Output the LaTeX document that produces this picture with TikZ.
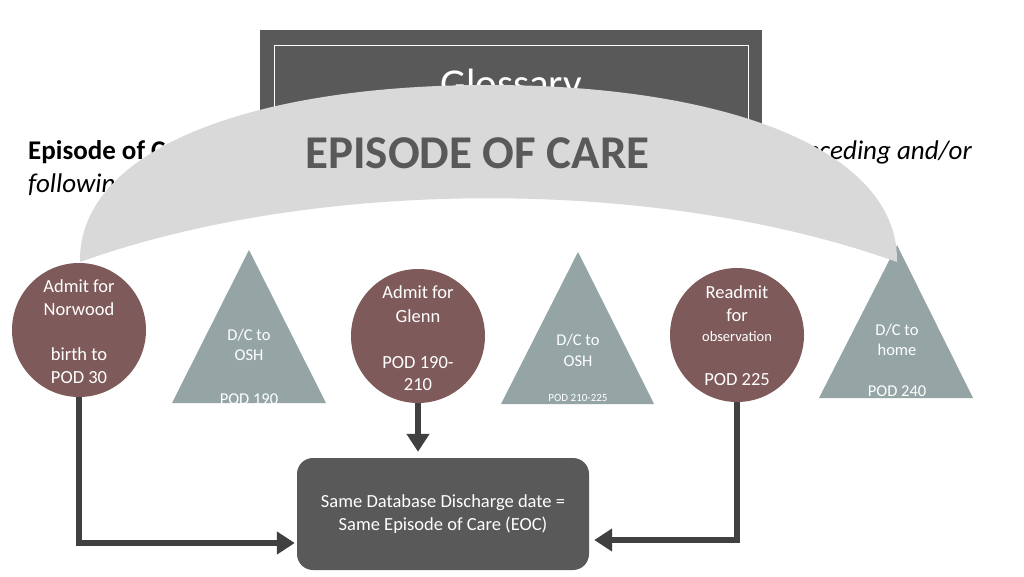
\documentclass[tikz,border=0pt]{standalone}
\usepackage{fontspec}
\setmainfont{Carlito}
\usetikzlibrary{arrows.meta}
\definecolor{dgray}{HTML}{595959}
\definecolor{bandgray}{HTML}{D9D9D9}
\definecolor{circfill}{HTML}{7F5A5A}
\definecolor{trifill}{HTML}{95A5A6}
\definecolor{arrowc}{HTML}{404040}
\begin{document}
\begin{tikzpicture}[x=1pt,y=-1pt,
  circ/.style={circle, fill=circfill, minimum size=134pt, inner sep=0pt},
  trishape/.style={fill=trifill},
  wtext/.style={text=white, anchor=base, inner sep=0pt, font=\fontsize{18.5}{22}\selectfont},
  ttext/.style={text=white, anchor=base, inner sep=0pt, font=\fontsize{16.5}{20}\selectfont},
  arr/.style={draw=arrowc, line width=6pt, -{Triangle[length=18pt,width=22pt]}}
]
\useasboundingbox (0,0) rectangle (1024,576);
\fill[white] (0,0) rectangle (1024,576);

% Glossary box
\node[fill=dgray, minimum width=502pt, minimum height=110pt, anchor=north west, inner sep=0pt] (gloss) at (260,30) {};
\draw[white, line width=0.8pt] (274,45) rectangle (748,122);
\node[anchor=base, text=white, inner sep=0pt, font=\fontsize{41}{44}\selectfont] (glosst) at (511,97) {Glossary};

% paragraph text
\node[anchor=base west, inner sep=0pt, font=\bfseries\fontsize{27}{30}\selectfont] (eoctext) at (28,159) {Episode of Care};
\node[anchor=base west, inner sep=0pt, font=\itshape\fontsize{27}{30}\selectfont] (foltext) at (28,192) {following};
\node[anchor=base east, inner sep=0pt, font=\itshape\fontsize{27}{30}\selectfont] (pretext) at (972,159) {preceding and/or};

% triangles
\fill[trishape] (249,250) -- (326,403) -- (172,403) -- cycle;
\fill[trishape] (578,252) -- (654,404) -- (501,404) -- cycle;
\fill[trishape] (897,245) -- (973,398) -- (819,398) -- cycle;

\node[ttext] (t1a) at (249,340) {D/C to};
\node[ttext] (t1b) at (249,360) {OSH};
\node[ttext] (t1c) at (249,404) {POD 190};
\node[ttext] (t2a) at (578,345) {D/C to};
\node[ttext] (t2b) at (578,366) {OSH};
\node[ttext, font=\fontsize{11}{13}\selectfont] (t2c) at (578,401) {POD 210-225};
\node[ttext] (t3a) at (897,335) {D/C to};
\node[ttext] (t3b) at (897,355) {home};
\node[ttext] (t3c) at (897,396) {POD 240};

% circles
\node[circ] (c1) at (79,330) {};
\node[circ] (c2) at (418,336) {};
\node[circ] (c3) at (737,335) {};

\node[wtext] (c1a) at (79,292) {Admit for};
\node[wtext] (c1b) at (79,315) {Norwood};
\node[wtext] (c1c) at (79,360) {birth to};
\node[wtext] (c1d) at (79,383) {POD 30};
\node[wtext] (c2a) at (418,298) {Admit for};
\node[wtext] (c2b) at (418,322) {Glenn};
\node[wtext] (c2c) at (418,368) {POD 190-};
\node[wtext] (c2d) at (418,390) {210};
\node[wtext] (c3a) at (737,298) {Readmit};
\node[wtext] (c3b) at (737,321) {for};
\node[wtext, font=\fontsize{14.5}{17}\selectfont] (c3c) at (737,341) {observation};
\node[wtext] (c3d) at (737,385) {POD 225};

% band
\fill[bandgray] (80,262) .. controls (78,150) and (250,85) .. (488.5,85)
  .. controls (727,85) and (899,150) .. (897,262)
  .. controls (660,177) and (317,177) .. (80,262) -- cycle;
\node[anchor=base, inner sep=0pt, text=dgray, font=\bfseries\fontsize{47}{50}\selectfont] (title) at (477.5,168) {EPISODE OF CARE};

% bottom box
\node[fill=dgray, rounded corners=16pt, minimum width=292pt, minimum height=112pt, inner sep=0pt,
  text=white, align=center, font=\fontsize{18.5}{23}\selectfont] (sdb) at (443,514)
  {Same Database Discharge date =\\Same Episode of Care (EOC)};

% arrows
\draw[arr, shorten >=2pt] (c1.south) |- ([yshift=-29pt]sdb.west);
\draw[arr, shorten >=6pt] (c2.south) -- (c2.south |- sdb.north);
\draw[arr, shorten >=5pt] (c3.south) |- ([yshift=-26pt]sdb.east);
\end{tikzpicture}
\end{document}
